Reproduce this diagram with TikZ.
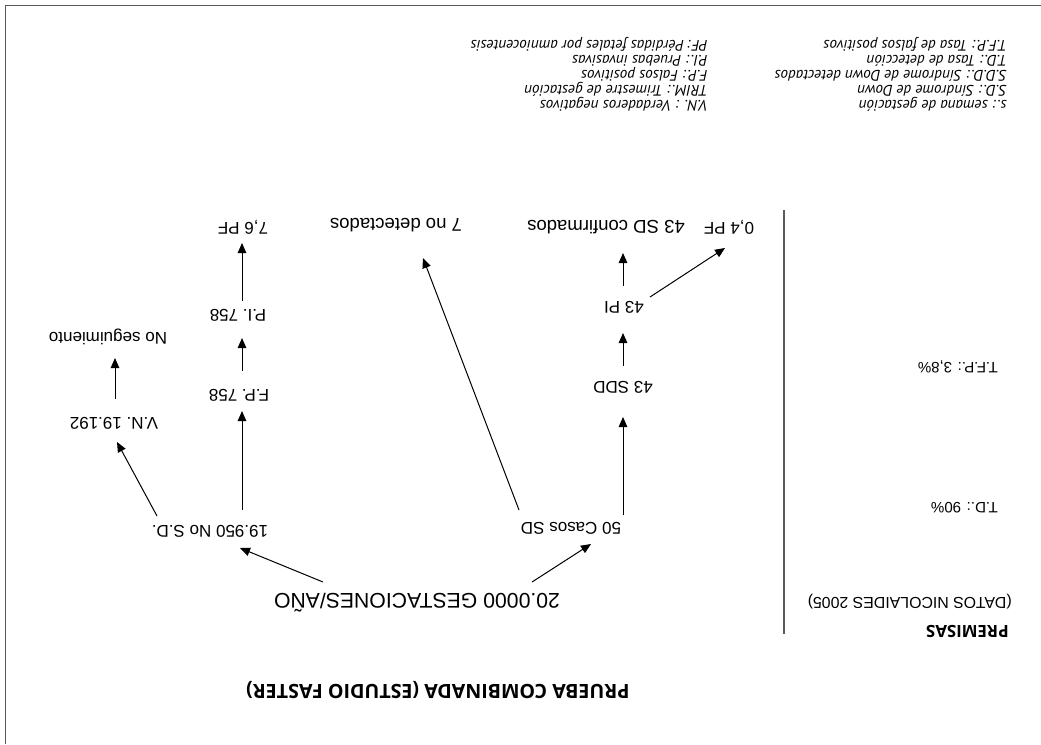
\documentclass[tikz,border=0pt]{standalone}
\usepackage{fontspec}
\setmainfont{Liberation Sans}
\newfontfamily\legendfont{PT Sans}
\newfontfamily\headfont{Open Sans}
\usetikzlibrary{arrows.meta}
\definecolor{rulegray}{HTML}{5A5A5A}
\begin{document}
\begin{tikzpicture}[x=0.75pt,y=-0.75pt,
  lbl/.style={rotate=180, inner sep=0pt, font=\fontsize{12.75pt}{14pt}\selectfont},
  biglbl/.style={lbl, font=\fontsize{13.9pt}{15pt}\selectfont},
  rootlbl/.style={rotate=180, inner sep=0pt, font=\fontsize{15.9pt}{17pt}\selectfont},
  premlbl/.style={rotate=180, inner sep=0pt, anchor=west, font=\fontsize{11.3pt}{13pt}\selectfont},
  headlbl/.style={rotate=180, inner sep=0pt, font=\headfont\bfseries\fontsize{12.6pt}{15pt}\selectfont},
  leg/.style={rotate=180, inner sep=0pt, anchor=west, text height=1.5ex, text depth=0.4ex,
    font=\legendfont\itshape\fontsize{11.4pt}{13pt}\selectfont},
  arr/.style={-{Triangle[length=7.5pt,width=6.4pt]}, line width=0.75pt},
]
\useasboundingbox (0,0) rectangle (1041,744);

% frame and separator
\draw[rulegray, line width=1.2pt] (5.5,744) -- (5.5,5.5) -- (1041,5.5);
\draw[rulegray, line width=1pt] (784,210) -- (784,634);

% legend
\node[leg] (l1) at (1007,44) {T.F.P.: Tasa de falsos positivos};
\node[leg] (l2) at (1007,59) {T.D.: Tasa de detección};
\node[leg] (l3) at (1007,74) {S.D.D.: Síndrome de Down detectados};
\node[leg] (l4) at (1007,89) {S.D.: Síndrome de Down};
\node[leg] (l5) at (1007,104) {s.: semana de gestación};
\node[leg] (r1) at (708,44) {PF: Pérdidas fetales por amniocentesis};
\node[leg] (r2) at (708,59) {P.I.: Pruebas invasivas};
\node[leg] (r3) at (708,74) {F.P.: Falsos positivos};
\node[leg] (r4) at (708,89) {TRIM.: Trimestre de gestación};
\node[leg] (r5) at (708,104) {V.N. : Verdaderos negativos};

% premises
\node[premlbl] (tfp) at (998,367) {T.F.P.: 3,8\%};
\node[premlbl] (td) at (998,508) {T.D.: 90\%};
\node[premlbl, font=\fontsize{11.9pt}{13pt}\selectfont] (datos) at (1012,602) {(DATOS NICOLAIDES 2005)};
\node[headlbl, anchor=west] (prem) at (1009,631) {PREMISAS};

% title
\node[headlbl, font=\headfont\bfseries\fontsize{14.7pt}{17pt}\selectfont] (title) at (438,690) {PRUEBA COMBINADA (ESTUDIO FASTER)};

% tree nodes
\node[rootlbl] (root) at (417,603) {20.0000 GESTACIONES/AÑO};
\node[lbl] (nosd) at (210,531) {19.950 No S.D.};
\node[lbl] (casos) at (571,528) {50 Casos SD};
\node[lbl] (vn) at (114,423) {V.N. 19.192};
\node[lbl] (fp) at (239,395) {F.P. 758};
\node[lbl] (pi758) at (238,315) {P.I. 758};
\node[lbl] (pf76) at (243,227) {7,6 PF};
\node[lbl] (noseg) at (108,337) {No seguimiento};
\node[lbl] (sdd) at (623,387) {43 SDD};
\node[lbl] (pi43) at (624,307) {43 PI};
\node[lbl] (pf04) at (729,227) {0,4 PF};
\node[biglbl] (conf) at (606,227) {43 SD confirmados};
\node[biglbl] (nodet) at (396,225) {7 no detectados};

% connectors
\draw[arr] ([shift={(-94,-21)}]root.center) -- ([shift={(30,17)}]nosd.center);
\draw[arr] ([shift={(115,-21)}]root.center) -- ([shift={(20,16)}]casos.center);
\draw[arr] ([shift={(32,-21)}]nosd.center) -- ([shift={(3,16)}]fp.center);
\draw[arr] ([shift={(-53,-15)}]nosd.center) -- ([shift={(3,19)}]vn.center);
\draw[arr] ([shift={(1,-24)}]vn.center) -- ([shift={(7,21)}]noseg.center);
\draw[arr] ([shift={(3,-24)}]fp.center) -- ([shift={(4,23)}]pi758.center);
\draw[arr] ([shift={(4,-14)}]pi758.center) -- ([shift={(-1,16)}]pf76.center);
\draw[arr] ([shift={(52,-13)}]casos.center) -- ([shift={(0,30)}]sdd.center);
\draw[arr] ([shift={(0,-21)}]sdd.center) -- ([shift={(-1,26)}]pi43.center);
\draw[arr] ([shift={(-1,-21)}]pi43.center) -- ([shift={(17,26)}]conf.center);
\draw[arr] ([shift={(26,-10)}]pi43.center) -- ([shift={(-4,21)}]pf04.center);
\draw[arr] ([shift={(-52,-18)}]casos.center) -- ([shift={(27,33)}]nodet.center);
\end{tikzpicture}
\end{document}
